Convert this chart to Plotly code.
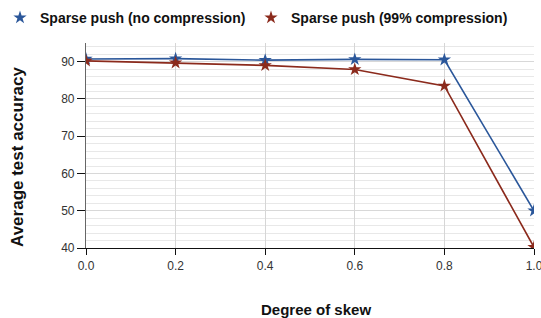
import plotly.graph_objects as go

skew = [0.0, 0.2, 0.4, 0.6, 0.8, 1.0]
no_comp = [90.7, 90.8, 90.4, 90.6, 90.5, 50.0]
comp99 = [90.2, 89.7, 89.0, 87.9, 83.5, 40.2]
names = ["Sparse push (no compression)", "Sparse push (99% compression)"]
colors = ["#2b579a", "#8b2a1c"]
x_ticks = [0.0, 0.2, 0.4, 0.6, 0.8, 1.0]
x_labels = ["0.0", "0.2", "0.4", "0.6", "0.8", "1.0"]
y_ticks = [40, 50, 60, 70, 80, 90]

W, H = 541, 318
L, R, T, B = 86, 7, 43, 70
pw, ph = W - L - R, H - T - B

def px_x(p):
    return (p - L) / pw

def px_y(p):
    return (H - B - p) / ph

fig = go.Figure()
legends = ["legend", "legend2"]
for ys, name, c, lg in zip([no_comp, comp99], names, colors, legends):
    fig.add_trace(go.Scatter(
        x=skew, y=ys, mode="lines+markers", name=name, showlegend=False,
        line=dict(color=c, width=1.6),
        marker=dict(symbol="star", size=10, color=c, line=dict(width=0)),
    ))
    fig.add_trace(go.Scatter(
        x=[None], y=[None], mode="markers", name=name, showlegend=True, legend=lg,
        marker=dict(symbol="star", size=10, color=c, line=dict(width=0)),
    ))

font_family = "Liberation Sans, Arial, sans-serif"
leg_common = dict(orientation="h", xref="paper", yref="paper",
                  xanchor="left", yanchor="middle", y=px_y(18),
                  font=dict(size=14, family=font_family, color="#111", weight="bold"),
                  itemwidth=30, bgcolor="rgba(0,0,0,0)")
fig.update_layout(
    width=W, height=H,
    margin=dict(l=L, r=R, t=T, b=B, autoexpand=False),
    paper_bgcolor="white", plot_bgcolor="white",
    font=dict(family=font_family, color="#222"),
    legend=dict(x=px_x(0), **leg_common),
    legend2=dict(x=px_x(251), **leg_common),
    xaxis=dict(range=[0, 1.0], tickvals=x_ticks, ticktext=x_labels,
               showgrid=True, gridcolor="#d6d6d6", gridwidth=1,
               showline=True, linecolor="#111", linewidth=1.2,
               ticks="outside", ticklen=6, tickcolor="#111",
               tickfont=dict(size=12, color="#333"), zeroline=False,
               automargin=False, ticklabeloverflow="allow"),
    yaxis=dict(range=[40, 95], tickvals=y_ticks,
               showgrid=True, gridcolor="#d8d8d8", gridwidth=1,
               minor=dict(dtick=2, showgrid=True, gridcolor="#e8e8e8", gridwidth=1),
               showline=True, linecolor="#666", linewidth=1.2,
               ticks="outside", ticklen=8, tickcolor="#111",
               tickfont=dict(size=12, color="#333"), zeroline=False, automargin=False),
    annotations=[
        dict(text="<b>Average test accuracy</b>", x=px_x(17), xref="paper",
             y=px_y(157), yref="paper", xanchor="center", yanchor="middle",
             showarrow=False, textangle=-90,
             font=dict(size=17, color="#111")),
        dict(text="<b>Degree of skew</b>", x=px_x(316), xref="paper",
             y=px_y(309), yref="paper", xanchor="center", yanchor="middle",
             showarrow=False, font=dict(size=15, color="#111")),
    ],
)

fig.write_html("out.html", config={"displayModeBar": False},
               post_script="document.body.style.margin='0';document.body.style.overflow='hidden';")
